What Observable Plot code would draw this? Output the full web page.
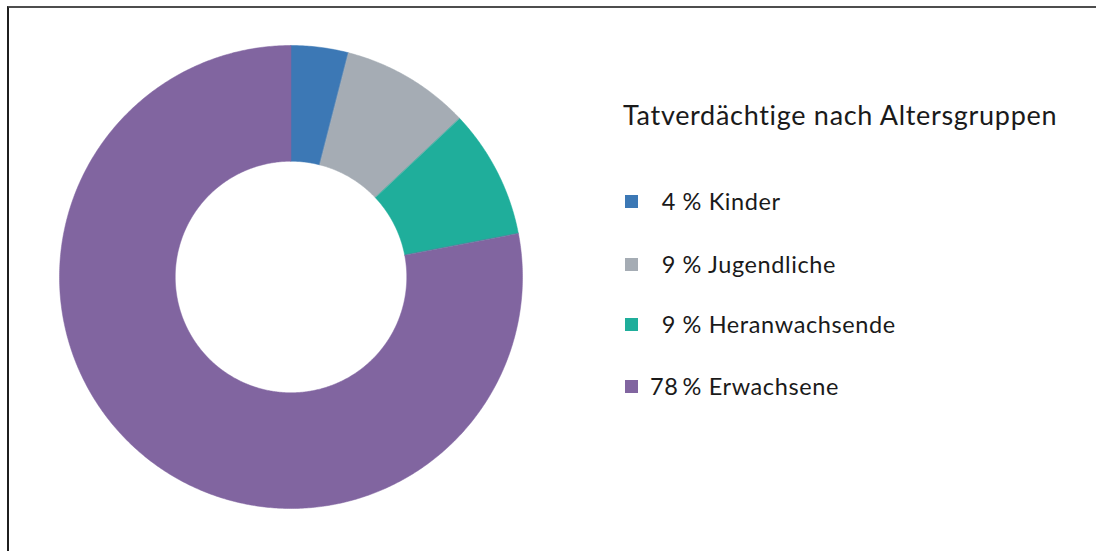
<!DOCTYPE html>
<html>
<head>
<meta charset="utf-8">
<script src="https://cdn.jsdelivr.net/npm/d3@7"></script>
<script src="https://cdn.jsdelivr.net/npm/@observablehq/plot@0.6"></script>
<style>
  html, body { margin: 0; padding: 0; background: #fff; }
  #wrap { position: relative; width: 1096px; height: 551px; overflow: hidden; font-family: Lato, "Noto Sans", sans-serif; color: #1a1a1a; }
  #frame { position: absolute; left: 7px; top: 6px; width: 1100px; height: 560px; border-top: 2px solid #4d4d4d; border-left: 2px solid #1f1f1f; box-sizing: border-box; }
  #chart { position: absolute; left: 0; top: 0; }
  #legend-title { position: absolute; left: 623px; top: 0; font-size: 27px; letter-spacing: 0.7px; white-space: nowrap; }
  .row { position: absolute; left: 625px; height: 30px; display: flex; align-items: center; white-space: nowrap; font-size: 23.5px; letter-spacing: 0.6px; }
  .sw { width: 13px; height: 13px; margin-right: 12px; flex: none; }
  .num { width: 26px; text-align: right; display: inline-block; }
</style>
</head>
<body>
<div id="wrap">
  <div id="frame"></div>
  <div id="chart"></div>
  <div id="legend-title">Tatverdächtige nach Altersgruppen</div>
</div>
<script>
const categories = ["Kinder", "Jugendliche", "Heranwachsende", "Erwachsene"];
const values = [4, 9, 9, 78];
const colors = ["#3c78b5", "#a5acb4", "#1fae9b", "#8165a0"];
const legendTitle = "Tatverdächtige nach Altersgruppen";

const innerRatio = 0.5;
const pie = d3.pie().sort(null).value(d => d.value);
const arcs = pie(categories.map((c, i) => ({category: c, value: values[i]})));

// Build slice polygons in unit (data) coordinates from the pie angles
const pts = [];
arcs.forEach(a => {
  const steps = Math.max(4, Math.ceil((a.endAngle - a.startAngle) / (Math.PI / 360)));
  const poly = [];
  for (let k = 0; k <= steps; k++) {
    const t = a.startAngle + (a.endAngle - a.startAngle) * k / steps;
    poly.push([Math.sin(t), Math.cos(t)]);
  }
  for (let k = steps; k >= 0; k--) {
    const t = a.startAngle + (a.endAngle - a.startAngle) * k / steps;
    poly.push([innerRatio * Math.sin(t), innerRatio * Math.cos(t)]);
  }
  poly.forEach(([x, y]) => pts.push({category: a.data.category, x, y}));
});

const W = 580, H = 551;
const chart = Plot.plot({
  width: W,
  height: H,
  marginLeft: 59,
  marginRight: W - 522,
  marginTop: 45,
  marginBottom: H - 508,
  x: {domain: [-1, 1], axis: null},
  y: {domain: [-1, 1], axis: null},
  color: {domain: categories, range: colors},
  style: {background: "transparent"},
  marks: [
    Plot.line(pts, {x: "x", y: "y", z: "category", fill: "category", stroke: "category", strokeWidth: 0.5, curve: "linear-closed"})
  ]
});
document.getElementById("chart").appendChild(chart);

// Legend
const wrap = document.getElementById("wrap");
const title = document.getElementById("legend-title");
title.textContent = legendTitle;
const centers = [201, 264, 324, 386];
categories.forEach((c, i) => {
  const row = document.createElement("div");
  row.className = "row";
  row.style.top = (centers[i] - 15) + "px";
  const sw = document.createElement("span");
  sw.className = "sw";
  sw.style.background = colors[i];
  const num = document.createElement("span");
  num.className = "num";
  num.textContent = values[i];
  const lab = document.createElement("span");
  lab.textContent = "\u00a0% " + c;
  row.append(sw, num, lab);
  wrap.appendChild(row);
});
title.style.top = "98px";
</script>
</body>
</html>
